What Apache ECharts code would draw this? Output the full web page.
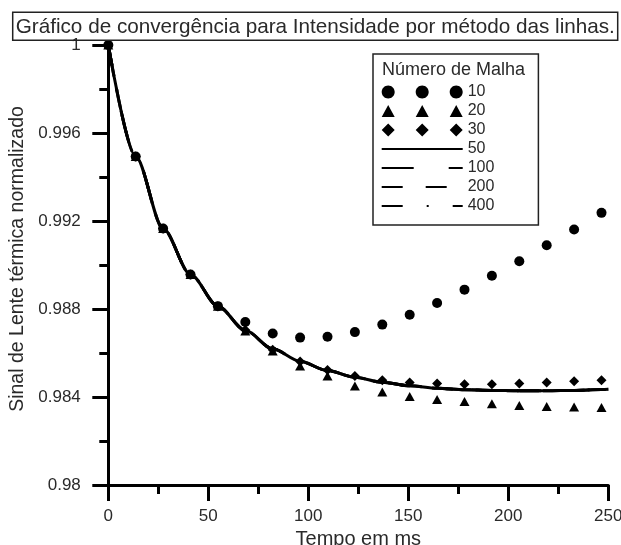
<!DOCTYPE html>
<html>
<head>
<meta charset="utf-8">
<title>Gráfico de convergência</title>
<script src="https://cdn.jsdelivr.net/npm/echarts@6/dist/echarts.min.js"></script>
<style>
  html, body { margin: 0; padding: 0; background: #fff; }
  #chart { width: 621px; height: 545px; }
</style>
</head>
<body>
<div id="chart"></div>
<script>
// time axis (ms) of the sampled points
const tempo = [0, 13.7, 27.4, 41.1, 54.8, 68.5, 82.2, 95.9, 109.6, 123.3, 137, 150.7, 164.4, 178.1, 191.8, 205.5, 219.2, 232.9, 246.6];
// continuous curves run to the end of the axis
const tempoCurva = [0, 13.7, 27.4, 41.1, 54.8, 68.5, 82.2, 95.9, 109.6, 123.3, 137, 150.7, 164.4, 178.1, 191.8, 205.5, 219.2, 232.9, 246.6, 250];

// markers: mesh 10, 20, 30
const malha10 = [1, 0.99493, 0.99166, 0.98957, 0.98813, 0.98741, 0.98689, 0.98670, 0.98674, 0.98695, 0.98729, 0.98774, 0.98827, 0.98888, 0.98951, 0.99017, 0.99090, 0.99161, 0.99237];
const malha20 = [1, 0.99493, 0.99166, 0.98957, 0.98813, 0.98700, 0.98609, 0.98541, 0.98496, 0.98450, 0.98423, 0.98402, 0.98389, 0.98380, 0.98369, 0.98361, 0.98357, 0.98355, 0.98352];
const malha30 = [1, 0.99493, 0.99166, 0.98957, 0.98813, 0.98705, 0.98615, 0.98561, 0.98523, 0.98496, 0.98476, 0.98466, 0.98461, 0.98458, 0.98458, 0.98461, 0.98466, 0.98472, 0.98476];

// lines: mesh 50, 100, 200, 400 (they lie on top of each other)
const malha50 = [1, 0.99493, 0.99166, 0.98957, 0.98813, 0.98703, 0.98619, 0.98562, 0.98520, 0.98490, 0.98467, 0.98451, 0.98440, 0.98433, 0.98430, 0.98428, 0.98428, 0.98430, 0.98434, 0.98435];
const malha100 = [1, 0.99493, 0.99166, 0.98957, 0.98813, 0.98703, 0.98619, 0.98562, 0.98520, 0.98490, 0.98467, 0.98451, 0.98440, 0.98433, 0.98430, 0.98428, 0.98428, 0.98430, 0.98434, 0.98435];
const malha200 = [1, 0.99493, 0.99166, 0.98957, 0.98813, 0.98703, 0.98619, 0.98562, 0.98520, 0.98490, 0.98467, 0.98451, 0.98440, 0.98433, 0.98430, 0.98428, 0.98428, 0.98430, 0.98434, 0.98435];
const malha400 = [1, 0.99493, 0.99166, 0.98957, 0.98813, 0.98703, 0.98619, 0.98562, 0.98520, 0.98490, 0.98467, 0.98451, 0.98440, 0.98433, 0.98430, 0.98428, 0.98428, 0.98430, 0.98434, 0.98435];

const fonte = "'Liberation Sans', Arial, sans-serif";
const tinta = '#000';

function pares(xs, ys) {
  return xs.map((x, i) => [x, ys[i]]);
}

// legend icons: three markers in a row, like the Origin legend
function circulo(cx, cy, r) {
  const k = 0.5523 * r;
  return 'M' + (cx - r) + ',' + cy +
    'C' + (cx - r) + ',' + (cy - k) + ' ' + (cx - k) + ',' + (cy - r) + ' ' + cx + ',' + (cy - r) +
    'C' + (cx + k) + ',' + (cy - r) + ' ' + (cx + r) + ',' + (cy - k) + ' ' + (cx + r) + ',' + cy +
    'C' + (cx + r) + ',' + (cy + k) + ' ' + (cx + k) + ',' + (cy + r) + ' ' + cx + ',' + (cy + r) +
    'C' + (cx - k) + ',' + (cy + r) + ' ' + (cx - r) + ',' + (cy + k) + ' ' + (cx - r) + ',' + cy + 'Z';
}
function triangulo(cx) {
  return 'M' + cx + ',0.5L' + (cx + 6.5) + ',12.5L' + (cx - 6.5) + ',12.5Z';
}
function losango(cx) {
  return 'M' + cx + ',0L' + (cx + 6.5) + ',6.5L' + cx + ',13L' + (cx - 6.5) + ',6.5Z';
}
const centros = [6.5, 40.5, 74.5];
const iconeCirculo = 'path://' + centros.map(c => circulo(c, 6.5, 6.5)).join('');
const iconeTriangulo = 'path://' + centros.map(triangulo).join('');
const iconeLosango = 'path://' + centros.map(losango).join('');
// hide the default symbol drawn in the middle of a line legend icon
const semSimbolo = { opacity: 0 };

const chart = echarts.init(document.getElementById('chart'));

const option = {
  animation: false,
  backgroundColor: '#fff',
  title: [
    {
      text: 'Gráfico de convergência para Intensidade por método das linhas.',
      left: 12.7,
      top: 12.3,
      padding: [4, 3, 3, 3],
      borderColor: '#222',
      borderWidth: 1.5,
      textStyle: { fontFamily: fonte, fontSize: 20.7, fontWeight: 'normal', color: '#2a2a2a' }
    },
    {
      text: 'Número de Malha',
      left: 382,
      top: 61,
      padding: 0,
      textStyle: { fontFamily: fonte, fontSize: 18, fontWeight: 'normal', color: '#2a2a2a' }
    }
  ],
  legend: {
    orient: 'vertical',
    left: 373,
    top: 54,
    padding: [30, 44, 11, 7.7],
    itemWidth: 81,
    itemHeight: 13,
    itemGap: 3,
    borderColor: '#222',
    borderWidth: 1.5,
    selectedMode: false,
    textStyle: { fontFamily: fonte, fontSize: 16, lineHeight: 16, color: '#2a2a2a' },
    data: [
      { name: '10', icon: iconeCirculo },
      { name: '20', icon: iconeTriangulo },
      { name: '30', icon: iconeLosango },
      { name: '50', itemStyle: semSimbolo },
      { name: '100', itemStyle: semSimbolo },
      { name: '200', itemStyle: semSimbolo },
      { name: '400', itemStyle: semSimbolo }
    ]
  },
  grid: {
    left: 108.3,
    right: 12.7,
    top: 45,
    bottom: 60,
    outerBoundsMode: 'none'
  },
  xAxis: {
    type: 'value',
    min: 0,
    max: 250,
    interval: 50,
    name: 'Tempo em ms',
    nameLocation: 'middle',
    nameGap: 35,
    nameTextStyle: { fontFamily: fonte, fontSize: 20, color: '#2a2a2a' },
    axisLine: { lineStyle: { color: tinta, width: 3 } },
    axisTick: { length: 16, lineStyle: { color: tinta, width: 3 } },
    minorTick: { show: true, splitNumber: 2, length: 9, lineStyle: { color: tinta, width: 3 } },
    splitLine: { show: false },
    minorSplitLine: { show: false },
    axisLabel: { fontFamily: fonte, fontSize: 17, color: '#2a2a2a', margin: 23 }
  },
  yAxis: {
    type: 'value',
    min: 0.98,
    max: 1,
    interval: 0.004,
    name: 'Sinal de Lente térmica normalizado',
    nameLocation: 'middle',
    nameGap: 78,
    nameTextStyle: { fontFamily: fonte, fontSize: 19.5, color: '#2a2a2a', padding: [0, 0, 0, 12] },
    axisLine: { show: true, lineStyle: { color: tinta, width: 3 } },
    axisTick: { show: true, length: 16, lineStyle: { color: tinta, width: 3 } },
    minorTick: { show: true, splitNumber: 2, length: 9, lineStyle: { color: tinta, width: 3 } },
    splitLine: { show: false },
    minorSplitLine: { show: false },
    axisLabel: { fontFamily: fonte, fontSize: 17, color: '#2a2a2a', margin: 27.5 }
  },
  series: [
    {
      name: '50',
      type: 'line',
      data: pares(tempoCurva, malha50),
      symbol: 'none',
      smooth: 0.3,
      smoothMonotone: 'x',
      itemStyle: { color: tinta },
      lineStyle: { color: tinta, width: 3, cap: 'butt' }
    },
    {
      name: '100',
      type: 'line',
      data: pares(tempoCurva, malha100),
      symbol: 'none',
      smooth: 0.3,
      smoothMonotone: 'x',
      itemStyle: { color: tinta },
      lineStyle: { color: tinta, width: 3, type: [32, 35], cap: 'butt' }
    },
    {
      name: '200',
      type: 'line',
      data: pares(tempoCurva, malha200),
      symbol: 'none',
      smooth: 0.3,
      smoothMonotone: 'x',
      itemStyle: { color: tinta },
      lineStyle: { color: tinta, width: 3, type: [21, 23], cap: 'butt' }
    },
    {
      name: '400',
      type: 'line',
      data: pares(tempoCurva, malha400),
      symbol: 'none',
      smooth: 0.3,
      smoothMonotone: 'x',
      itemStyle: { color: tinta },
      lineStyle: { color: tinta, width: 3, type: [21, 24, 2, 24], cap: 'butt' }
    },
    {
      name: '10',
      type: 'scatter',
      data: pares(tempo, malha10),
      symbol: 'circle',
      symbolSize: 10,
      itemStyle: { color: tinta, opacity: 1 }
    },
    {
      name: '20',
      type: 'scatter',
      data: pares(tempo, malha20),
      symbol: 'triangle',
      symbolSize: [10, 9],
      itemStyle: { color: tinta, opacity: 1 }
    },
    {
      name: '30',
      type: 'scatter',
      data: pares(tempo, malha30),
      symbol: 'diamond',
      symbolSize: 10,
      itemStyle: { color: tinta, opacity: 1 }
    }
  ]
};

chart.setOption(option);

window.addEventListener('resize', function() {
  chart.resize();
});
</script>
</body>
</html>
